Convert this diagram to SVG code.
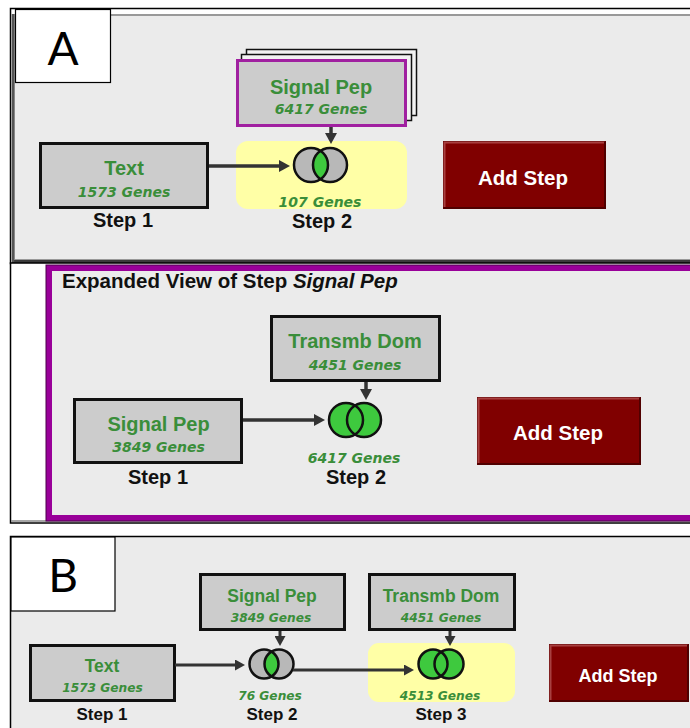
<svg xmlns="http://www.w3.org/2000/svg" width="690" height="728" viewBox="0 0 690 728">
<style>
.t{font-family:"Liberation Sans",Arial,sans-serif;font-weight:bold;font-size:20px;fill:#3a8e3a;text-anchor:middle}
.tb{font-family:"Liberation Sans",Arial,sans-serif;font-weight:bold;font-size:17.5px;fill:#3a8e3a;text-anchor:middle}
.g{font-family:"DejaVu Sans",Verdana,sans-serif;font-weight:bold;font-style:italic;font-size:14px;fill:#3a8e3a;text-anchor:middle}
.gb{font-family:"DejaVu Sans",Verdana,sans-serif;font-weight:bold;font-style:italic;font-size:12.2px;fill:#3a8e3a;text-anchor:middle}
.s{font-family:"Liberation Sans",Arial,sans-serif;font-weight:bold;font-size:20px;fill:#111;text-anchor:middle}
.sb{font-family:"Liberation Sans",Arial,sans-serif;font-weight:bold;font-size:17px;fill:#111;text-anchor:middle}
.bt{font-family:"Liberation Sans",Arial,sans-serif;font-weight:bold;font-size:20.5px;fill:#fff;text-anchor:middle}
.btb{font-family:"Liberation Sans",Arial,sans-serif;font-weight:bold;font-size:18px;fill:#fff;text-anchor:middle}
.lbl{font-family:Lato,"Open Sans",sans-serif;font-size:46px;fill:#000;text-anchor:middle}
.box{fill:#cccccc;stroke:#111;stroke-width:3}
.btn{fill:#800000;stroke:#5a0000;stroke-width:1}
.hl{stroke:#a84040;stroke-width:2;fill:none}
.yel{fill:#ffffa6}
.cg{fill:#b8b8b8}
.cgr{fill:#3ec93e}
.co{fill:none;stroke:#111;stroke-width:2.5}
.con{stroke:#333;stroke-width:3.5;fill:none;marker-end:url(#ah)}
.conb{stroke:#333;stroke-width:3;fill:none;marker-end:url(#ahb)}
</style>
<defs>
<marker id="ah" markerWidth="11" markerHeight="12" refX="4" refY="6" orient="auto" markerUnits="userSpaceOnUse"><path d="M0,0 L11,6 L0,12 z" fill="#333"/></marker>
<marker id="ahb" markerWidth="10" markerHeight="11" refX="4" refY="5.5" orient="auto" markerUnits="userSpaceOnUse"><path d="M0,0 L10,5.5 L0,11 z" fill="#333"/></marker>
</defs>

<!-- Panel A frame -->
<g id="panelA">
<rect x="10.5" y="8.5" width="700" height="255" fill="#fff" stroke="#000" stroke-width="1.5"/>
<rect x="14" y="15" width="700" height="245" fill="#ebebeb" stroke="#999" stroke-width="2"/>
<line x1="12" y1="261.5" x2="700" y2="261.5" stroke="#3a3a3a" stroke-width="3"/>
<line x1="13" y1="14" x2="13" y2="262" stroke="#555" stroke-width="2.5"/>
</g>
<g id="labelA">
<rect x="15.5" y="9.5" width="95" height="73" fill="#fff" stroke="#000" stroke-width="1.2"/>
<text class="lbl" x="63" y="65">A</text>
</g>

<!-- Middle region (expanded view) -->
<g id="expandedFrame">
<rect x="10.5" y="263" width="700" height="260" fill="#fff" stroke="#000" stroke-width="1.5"/>
<line x1="11" y1="521" x2="700" y2="521" stroke="#888" stroke-width="1.5"/>
<rect x="49" y="268" width="660" height="250" fill="#ebebeb" stroke="#990099" stroke-width="6"/>
<rect x="46" y="265" width="666" height="256" fill="none" stroke="#4d004d" stroke-width="1"/>
<text x="62" y="288" style="font-family:'Liberation Sans',Arial,sans-serif;font-weight:bold;font-size:20.5px;fill:#111">Expanded View of Step <tspan font-style="italic">Signal Pep</tspan></text>
</g>

<!-- Panel B frame -->
<g id="panelB">
<rect x="10.5" y="536.5" width="700" height="200" fill="#ebebeb" stroke="#000" stroke-width="1.5"/>
</g>
<g id="labelB">
<rect x="11" y="537" width="104" height="74" fill="#fff" stroke="#000" stroke-width="1.2"/>
<text class="lbl" x="63" y="592">B</text>
</g>

<!-- Panel A nodes -->
<g id="A-text">
<rect class="box" x="40.5" y="143.5" width="167" height="64"/>
<text class="t" x="124" y="175">Text</text>
<text class="g" x="124" y="197">1573 Genes</text>
<text class="s" x="123" y="227">Step 1</text>
</g>
<g id="A-signalpep">
<rect x="246.5" y="49.5" width="170" height="66" fill="#f2f2f2" stroke="#111" stroke-width="1.5"/>
<rect x="241.5" y="54.5" width="170" height="66" fill="#f2f2f2" stroke="#111" stroke-width="1.5"/>
<rect x="237.5" y="60.5" width="168" height="65" fill="#cccccc" stroke="#a020a0" stroke-width="3"/>
<text class="t" x="321" y="94">Signal Pep</text>
<text class="g" x="321" y="114">6417 Genes</text>
</g>
<g id="A-step2">
<rect class="yel" x="236" y="141" width="171" height="68" rx="12"/>
<circle class="cg" cx="311" cy="165" r="17"/>
<circle class="cg" cx="330" cy="165" r="17"/>
<path d="M320.5,150.9 A17,17 0 0 1 320.5,179.1 A17,17 0 0 1 320.5,150.9 Z" fill="#3ec93e"/>
<circle class="co" cx="311" cy="165" r="17"/>
<circle class="co" cx="330" cy="165" r="17"/>
<text class="g" x="320" y="207">107 Genes</text>
<text class="s" x="322" y="228">Step 2</text>
</g>
<g id="A-addstep">
<rect class="btn" x="443.5" y="141.5" width="162" height="67"/>
<path class="hl" d="M444.5,207 V142.5 H604.5"/>
<path d="M605,142 V208 H444" fill="none" stroke="#500000" stroke-width="2"/>
<text class="bt" x="523" y="185">Add Step</text>
</g>

<!-- Expanded view nodes -->
<g id="E-signalpep">
<rect class="box" x="74.5" y="399.5" width="167" height="63"/>
<text class="t" x="158.5" y="431">Signal Pep</text>
<text class="g" x="158.5" y="452">3849 Genes</text>
<text class="s" x="158" y="484">Step 1</text>
</g>
<g id="E-transmb">
<rect class="box" x="271.5" y="316.5" width="168" height="64"/>
<text class="t" x="355" y="348">Transmb Dom</text>
<text class="g" x="355" y="370">4451 Genes</text>
</g>
<g id="E-step2">
<circle class="cgr" cx="346" cy="420" r="17"/>
<circle class="cgr" cx="364" cy="420" r="17"/>
<circle class="co" cx="346" cy="420" r="17"/>
<circle class="co" cx="364" cy="420" r="17"/>
<text class="g" x="354" y="463">6417 Genes</text>
<text class="s" x="356" y="484">Step 2</text>
</g>
<g id="E-addstep">
<rect class="btn" x="477.5" y="397.5" width="163" height="67"/>
<path class="hl" d="M478.5,463 V398.5 H639.5"/>
<path d="M640,398 V464 H478" fill="none" stroke="#500000" stroke-width="2"/>
<text class="bt" x="558" y="440">Add Step</text>
</g>

<!-- Panel B nodes -->
<g id="B-text">
<rect class="box" x="30.5" y="645.5" width="144" height="55"/>
<text class="tb" x="102" y="672">Text</text>
<text class="gb" x="102.5" y="692">1573 Genes</text>
<text class="sb" x="102" y="720">Step 1</text>
</g>
<g id="B-signalpep">
<rect class="box" x="200.5" y="574.5" width="144" height="55"/>
<text class="tb" x="272" y="602">Signal Pep</text>
<text class="gb" x="271" y="622">3849 Genes</text>
</g>
<g id="B-step2">
<circle class="cg" cx="264" cy="664" r="14.5"/>
<circle class="cg" cx="279" cy="664" r="14.5"/>
<path d="M271.5,651.6 A14.5,14.5 0 0 1 271.5,676.4 A14.5,14.5 0 0 1 271.5,651.6 Z" fill="#3ec93e"/>
<circle class="co" cx="264" cy="664" r="14.5"/>
<circle class="co" cx="279" cy="664" r="14.5"/>
<text class="gb" x="270" y="700">76 Genes</text>
<text class="sb" x="272" y="720">Step 2</text>
</g>
<g id="B-transmb">
<rect class="box" x="369.5" y="574.5" width="145" height="55"/>
<text class="tb" x="441" y="602">Transmb Dom</text>
<text class="gb" x="441" y="622">4451 Genes</text>
</g>
<g id="B-step3">
<rect class="yel" x="368" y="643" width="147" height="59" rx="11"/>
<circle class="cgr" cx="433" cy="664" r="14.5"/>
<circle class="cgr" cx="449" cy="664" r="14.5"/>
<circle class="co" cx="433" cy="664" r="14.5"/>
<circle class="co" cx="449" cy="664" r="14.5"/>
<text class="gb" x="440" y="700">4513 Genes</text>
<text class="sb" x="441" y="720">Step 3</text>
</g>
<g id="B-addstep">
<rect class="btn" x="549.5" y="644.5" width="139" height="57"/>
<path class="hl" d="M550.5,700 V645.5 H687.5"/>
<path d="M688,645 V701 H550" fill="none" stroke="#500000" stroke-width="2"/>
<text class="btb" x="618" y="682">Add Step</text>
</g>

<!-- Connectors -->
<g id="connectors">
<line class="con" x1="209" y1="166" x2="283" y2="166"/>
<line class="con" x1="331" y1="127" x2="331" y2="137"/>
<line class="con" x1="243" y1="420" x2="318" y2="420"/>
<line class="con" x1="366" y1="382" x2="366" y2="393"/>
<line class="conb" x1="175" y1="665" x2="239" y2="665"/>
<line class="conb" x1="280" y1="631" x2="280" y2="640"/>
<line class="conb" x1="293" y1="670" x2="408" y2="670"/>
<line class="conb" x1="450" y1="631" x2="450" y2="640"/>
</g>
</svg>
